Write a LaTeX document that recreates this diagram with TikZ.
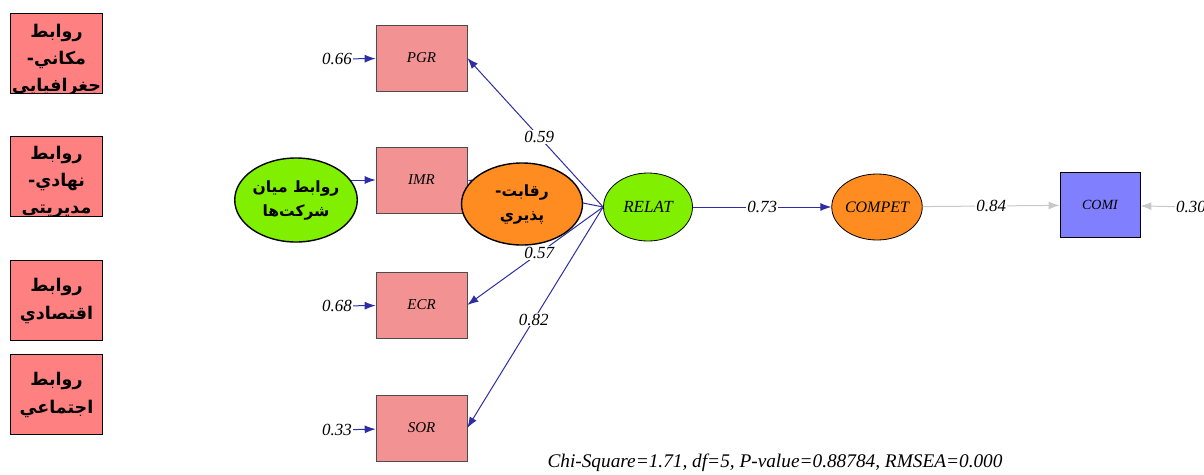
\documentclass[tikz,border=0pt]{standalone}
\usepackage{fontspec}
\setmainfont{Liberation Serif}
\newfontfamily\arabicfont[Script=Arabic]{DejaVu Sans}
\TeXXeTstate=1
\usetikzlibrary{shapes.geometric,arrows.meta}
\definecolor{relred}{RGB}{255,128,128}
\definecolor{indred}{RGB}{243,146,146}
\definecolor{latgreen}{RGB}{128,240,0}
\definecolor{latorange}{RGB}{255,140,32}
\definecolor{obsblue}{RGB}{128,128,255}
\definecolor{pathblue}{RGB}{45,45,165}
\definecolor{pathgrey}{RGB}{200,200,200}

\begin{document}
\begin{tikzpicture}[
  x=1pt, y=-1pt,
  every node/.style={font=\itshape\fontsize{15}{17}\selectfont},
  factor/.style={draw=black, line width=1.6pt, fill=relred, minimum width=92pt, minimum height=80pt, inner sep=0pt,
                 font=\arabicfont\bfseries\fontsize{17.5}{28}\selectfont, align=center},
  factortext/.style={draw=none, fill=none, inner sep=0pt, font=\arabicfont\bfseries\fontsize{17.5}{27}\selectfont, align=center},
  indicator/.style={draw=black!70, line width=0.6pt, fill=indred, minimum width=91pt, minimum height=66pt},
  latent/.style={ellipse, draw=black, line width=0.8pt, inner sep=0pt},
  bigblob/.style={ellipse, draw=black, line width=1.4pt, inner sep=0pt, font=\arabicfont\bfseries\fontsize{15.5}{24}\selectfont, align=center},
  coef/.style={fill=white, inner sep=1pt, font=\itshape\fontsize{17}{19}\selectfont},
  errlbl/.style={inner sep=1pt, font=\itshape\fontsize{17}{19}\selectfont},
  path/.style={draw=pathblue, line width=1pt, -{Latex[length=11pt,width=8pt]}},
  greypath/.style={draw=pathgrey, line width=1pt, -{Latex[length=11pt,width=8pt]}}
]
\useasboundingbox (0,0) rectangle (1204,474);

% relations (left column)
\node[factor, path picture={\node[factortext] (r1txt) at ([yshift=-6pt]path picture bounding box.center)
    {\beginR روابط\endR\\\beginR مكاني-\endR\\\beginR جغرافيايي\endR};}] (r1) at (56.5,53.5) {};
\node[factor, path picture={\node[factortext] (r2txt) at ([yshift=-5pt]path picture bounding box.center)
    {\beginR روابط\endR\\\beginR نهادي-\endR\\\beginR مديريتي\endR};}] (r2) at (56.5,176.5) {};
\node[factor] (r3) at (56.5,300.5) {\beginR روابط\endR\\\beginR اقتصادي\endR};
\node[factor] (r4) at (56.5,394.5) {\beginR روابط\endR\\\beginR اجتماعي\endR};

% observed indicators
\node[indicator] (pgr) at (421.5,58) {PGR};
\node[indicator] (imr) at (421.5,180) {IMR};
\node[indicator] (ecr) at (421.5,305) {ECR};
\node[indicator] (sor) at (421.5,428) {SOR};

\node[errlbl] (e1) at (337,59) {0.66};
\coordinate (e2) at (350,180);
\node[errlbl] (e3) at (337,306) {0.68};
\node[errlbl] (e4) at (337,430) {0.33};
\draw[path] (e1) -- (pgr);
\draw[path] (e2) -- (imr);
\draw[path] (e3) -- (ecr);
\draw[path] (e4) -- (sor);

% latent variables
\node[latent, fill=latgreen, minimum width=89pt, minimum height=68pt, font=\itshape\fontsize{17}{19}\selectfont] (relat) at (648,207) {RELAT};
\node[latent, fill=latorange, minimum width=88pt, minimum height=66pt, font=\itshape\fontsize{16}{18}\selectfont] (compet) at (877,207) {COMPET};
\node[draw=black, line width=0.8pt, fill=obsblue, minimum width=80pt, minimum height=65pt, font=\itshape\fontsize{14}{16}\selectfont] (comi) at (1100,205) {COMI};

\draw[path] (relat.west) -- node[coef, pos=0.47] {0.59} (pgr.east);
\draw[path] (relat.west) -- (imr.east);
\draw[path] (relat.west) -- node[coef, pos=0.47] {0.57} (ecr.east);
\draw[path] (relat.west) -- node[coef, pos=0.51] {0.82} (sor.east);
\draw[path] (relat) -- node[coef] {0.73} (compet);
\draw[greypath] (compet) -- node[coef] {0.84} (comi);

\node[errlbl] (e5) at (1191,207) {0.30};
\draw[greypath] (e5) -- (comi);

% overlaid blobs
\node[bigblob, fill=latgreen, minimum width=122pt, minimum height=84pt] (firms) at (296,200)
    {\beginR روابط ميان\endR\\\beginR شرکت‌ها\endR};
\node[bigblob, fill=latorange, minimum width=121pt, minimum height=82pt] (rivalry) at (522,204)
    {\beginR رقابت-\endR\\\beginR پذيري\endR};

\node[font=\itshape\fontsize{19.3}{22}\selectfont] (fit) at (775,463)
    {Chi-Square=1.71, df=5, P-value=0.88784, RMSEA=0.000};
\end{tikzpicture}
\end{document}
